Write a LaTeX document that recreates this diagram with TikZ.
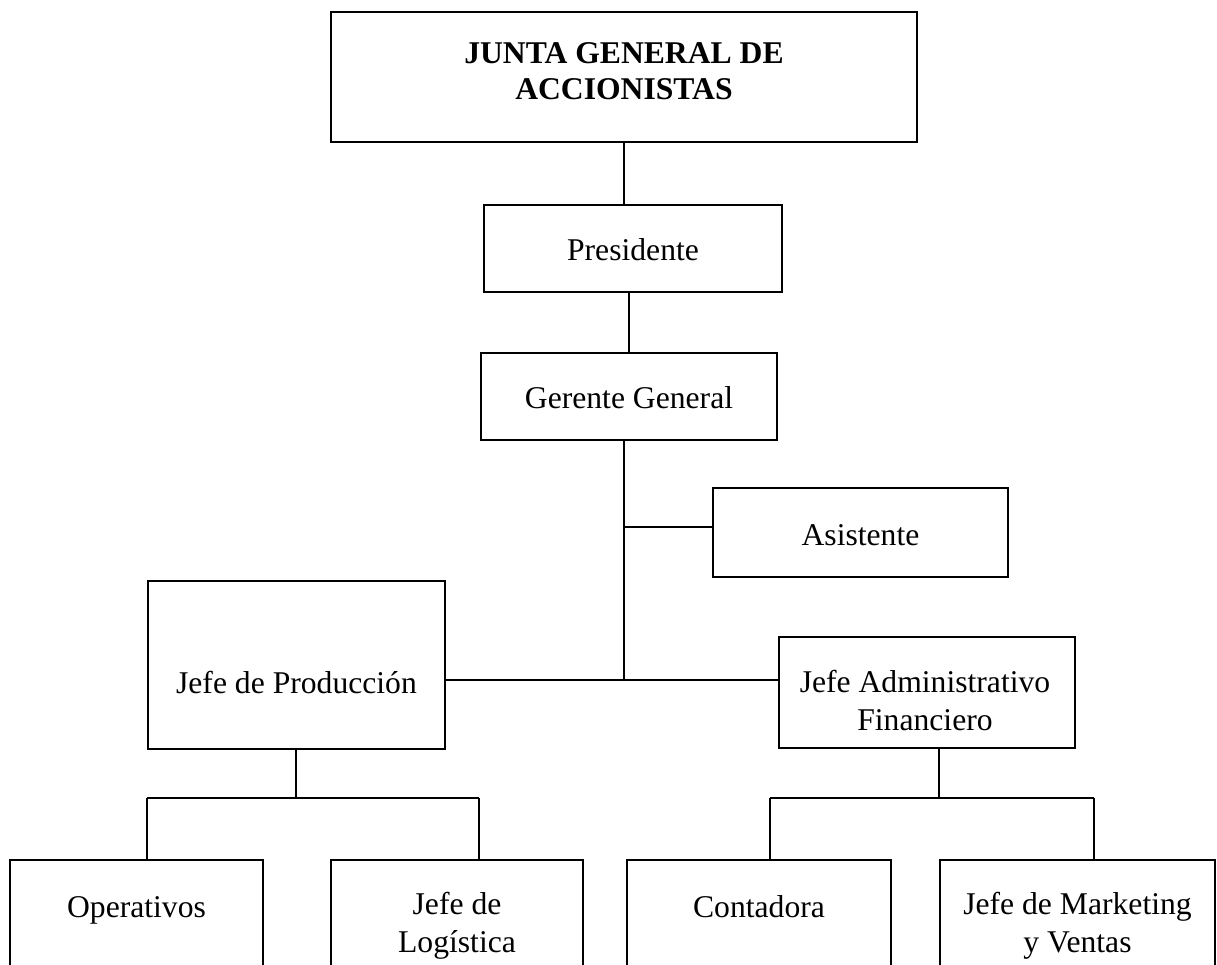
\documentclass[tikz,border=0pt]{standalone}
\usepackage{fontspec}
\setmainfont{Liberation Serif}

\tikzset{
  box/.style 2 args={draw, line width=0.9pt, inner sep=0pt,
    minimum width=#1*0.025cm, minimum height=#2*0.025cm},
  lbl/.style={anchor=base, align=center, inner sep=0pt,
    font=\fontsize{22.5}{26.5}\selectfont},
  wire/.style={line width=1.3pt},
}

\begin{document}
\begin{tikzpicture}[x=0.025cm, y=-0.025cm]
  % page frame, the bottom row runs off the edge
  \clip (0,0) rectangle (1217,965);
  \fill[white] (0,0) rectangle (1217,965);

  % Draw the boxes
  \node[box={586}{130}] (junta) at (624,77) {};
  \node[box={298}{87}]  (pres)  at (633,248.5) {};
  \node[box={296}{87}]  (gg)    at (629,396.5) {};
  \node[box={295}{89}]  (asis)  at (860.5,532.5) {};
  \node[box={297}{168}] (jp)    at (296.5,665) {};
  \node[box={296}{111}] (ja)    at (927,692.5) {};
  \node[box={253}{160}] (op)    at (136.5,940) {};
  \node[box={252}{160}] (log)   at (457,940) {};
  \node[box={264}{160}] (cont)  at (759,940) {};
  \node[box={275}{160}] (mkt)   at (1077.5,940) {};

  % Texts inside the boxes (two-line texts sit on their last line)
  \node[lbl, font=\fontsize{22.5}{26}\selectfont\bfseries] (t-junta) at (624,100)
    {JUNTA GENERAL DE\\ACCIONISTAS};
  \node[lbl] (t-pres) at (633,260) {Presidente};
  \node[lbl] (t-gg)   at (629,408) {Gerente General};
  \node[lbl] (t-asis) at (860.5,545) {Asistente};
  \node[lbl] (t-jp)   at (296.5,693) {Jefe de Producción};
  \node[lbl] (t-ja)   at (925,730) {Jefe Administrativo\\Financiero};
  \node[lbl] (t-op)   at (136.5,917) {Operativos};
  \node[lbl] (t-log)  at (457,952) {Jefe de\\Logística};
  \node[lbl] (t-cont) at (759,917) {Contadora};
  \node[lbl] (t-mkt)  at (1077.5,952) {Jefe de Marketing\\y Ventas};

  % Junction points of the lines
  \coordinate (hub)  at (624,680);
  \coordinate (side) at (624,527);
  \coordinate (jpl)  at (147,798);
  \coordinate (jpr)  at (479,798);
  \coordinate (jpc)  at (296,798);
  \coordinate (jal)  at (770,798);
  \coordinate (jar)  at (1094,798);
  \coordinate (jac)  at (939,798);

  % Draw the lines between the boxes
  \draw[wire] (junta.south) -- (junta.south |- pres.north);
  \draw[wire] (pres.south -| gg.north) -- (gg.north);
  \draw[wire] (gg.south -| hub) -- (hub);
  \draw[wire] (side) -- (side -| asis.west);
  \draw[wire] (jp.east |- hub) -- (ja.west |- hub);

  % Draw the branches under the two heads
  \draw[wire] (jp.south -| jpc) -- (jpc);
  \draw[wire] (jpl) -- (jpr);
  \draw[wire] (jpl) -- (jpl |- op.north);
  \draw[wire] (jpr) -- (jpr |- log.north);

  \draw[wire] (ja.south -| jac) -- (jac);
  \draw[wire] (jal) -- (jar);
  \draw[wire] (jal) -- (jal |- cont.north);
  \draw[wire] (jar) -- (jar |- mkt.north);
\end{tikzpicture}
\end{document}
